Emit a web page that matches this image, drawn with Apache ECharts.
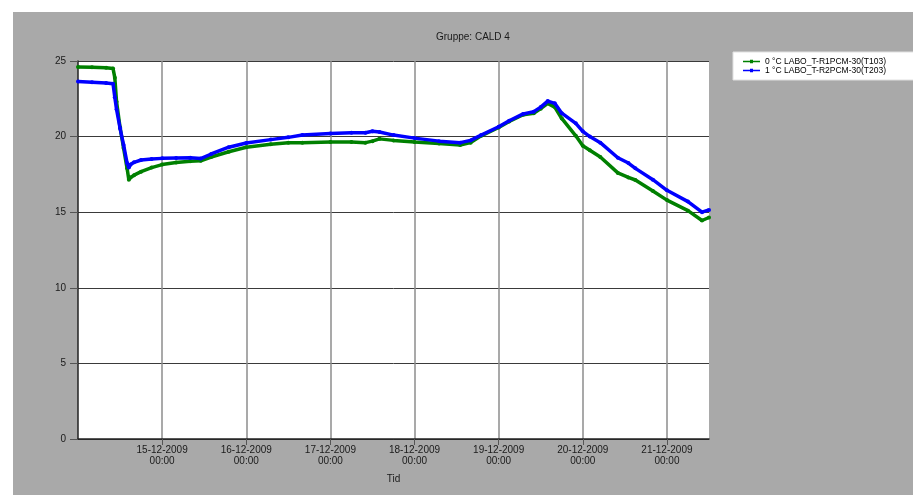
<!DOCTYPE html>
<html>
<head>
<meta charset="utf-8">
<script src="https://cdn.jsdelivr.net/npm/echarts@6/dist/echarts.min.js"></script>
<style>
  html, body { margin: 0; padding: 0; background: #ffffff; width: 913px; height: 495px; overflow: hidden; }
  #wrap { position: absolute; left: 13px; top: 12px; width: 900px; height: 483px; background: #a9a9a9; }
  #chart { width: 900px; height: 483px; }
</style>
</head>
<body>
<div id="wrap"><div id="chart"></div></div>
<script>
// Sample times (dd-MM-yyyy HH:mm)
const times = [
  '14-12-2009 00:00','14-12-2009 04:00','14-12-2009 08:00','14-12-2009 10:00','14-12-2009 10:30',
  '14-12-2009 11:00','14-12-2009 12:00','14-12-2009 13:00','14-12-2009 14:00','14-12-2009 14:30',
  '14-12-2009 15:00','14-12-2009 16:00','14-12-2009 18:00','14-12-2009 21:00','15-12-2009 00:00',
  '15-12-2009 04:00','15-12-2009 08:00','15-12-2009 11:00','15-12-2009 14:00','15-12-2009 19:00',
  '16-12-2009 00:00','16-12-2009 07:00','16-12-2009 12:00','16-12-2009 16:00','17-12-2009 00:00',
  '17-12-2009 06:00','17-12-2009 10:00','17-12-2009 12:00','17-12-2009 14:00','17-12-2009 18:00',
  '18-12-2009 00:00','18-12-2009 07:00','18-12-2009 13:00','18-12-2009 16:00','18-12-2009 19:00',
  '19-12-2009 00:00','19-12-2009 03:00','19-12-2009 07:00','19-12-2009 10:00','19-12-2009 12:00',
  '19-12-2009 14:00','19-12-2009 16:00','19-12-2009 18:00','19-12-2009 22:00','20-12-2009 00:00',
  '20-12-2009 02:00','20-12-2009 05:00','20-12-2009 10:00','20-12-2009 13:00','20-12-2009 15:00',
  '20-12-2009 20:00','21-12-2009 00:00','21-12-2009 06:00','21-12-2009 10:00','21-12-2009 12:00'
];
// 0 °C LABO_T-R1PCM-30(T103)
const seriesT103 = [
  24.60, 24.58, 24.55, 24.50, 23.90,
  22.30, 20.60, 19.25, 17.90, 17.15,
  17.30, 17.45, 17.68, 17.95, 18.15,
  18.28, 18.37, 18.40, 18.65, 19.00,
  19.30, 19.50, 19.60, 19.60, 19.65,
  19.65, 19.60, 19.70, 19.85, 19.75,
  19.65, 19.55, 19.45, 19.60, 20.05,
  20.60, 21.00, 21.45, 21.55, 21.85,
  22.20, 21.95, 21.20, 20.05, 19.40,
  19.10, 18.65, 17.60, 17.30, 17.13,
  16.40, 15.80, 15.10, 14.45, 14.65
];
// 1 °C LABO_T-R2PCM-30(T203)
const seriesT203 = [
  23.65, 23.60, 23.55, 23.50, 22.60,
  21.80, 20.55, 19.45, 18.25, 17.95,
  18.15, 18.30, 18.45, 18.52, 18.56,
  18.58, 18.60, 18.55, 18.85, 19.30,
  19.58, 19.80, 19.95, 20.10, 20.20,
  20.25, 20.25, 20.35, 20.30, 20.10,
  19.90, 19.70, 19.60, 19.75, 20.10,
  20.65, 21.05, 21.50, 21.65, 21.95,
  22.35, 22.20, 21.55, 20.88, 20.35,
  20.00, 19.60, 18.60, 18.25, 17.90,
  17.15, 16.45, 15.70, 15.00, 15.15
];
const seriesNames = ['0 °C LABO_T-R1PCM-30(T103)', '1 °C LABO_T-R2PCM-30(T203)'];
const dayLabels = ['14-12-2009','15-12-2009','16-12-2009','17-12-2009','18-12-2009','19-12-2009','20-12-2009','21-12-2009'];
const yTicks = [0, 5, 10, 15, 20, 25];

// hours since 14-12-2009 00:00 (parsed from the text, no timezone)
function toHours(s) {
  const d = parseInt(s.slice(0, 2), 10);
  const hh = parseInt(s.slice(11, 13), 10);
  const mm = parseInt(s.slice(14, 16), 10);
  return (d - 14) * 24 + hh + mm / 60;
}
const xs = times.map(toHours);
const dataG = xs.map((x, i) => [x, seriesT103[i]]);
const dataB = xs.map((x, i) => [x, seriesT203[i]]);
const tickHours = dayLabels.map((_, i) => i * 24).filter(h => h > 0);

const FONT = "'Liberation Sans', Arial, sans-serif";
const LEGEND_ICON = 'path://M0,8 L34,8 L34,11 L0,11 Z M14,6 L20,6 L20,13 L14,13 Z';
const chart = echarts.init(document.getElementById('chart'), null, { renderer: 'canvas' });
chart.setOption({
  animation: false,
  backgroundColor: '#a9a9a9',
  textStyle: { fontFamily: FONT },
  title: {
    text: 'Gruppe: CALD 4',
    left: 418,
    top: 15,
    textStyle: { fontSize: 10, fontWeight: 'normal', color: '#1a1a1a', fontFamily: FONT }
  },
  legend: {
    orient: 'vertical',
    left: 720,
    top: 40,
    backgroundColor: '#ffffff',
    borderColor: '#e0e0e0',
    borderWidth: 1,
    padding: [5, 31, 5, 10],
    itemGap: 0,
    itemWidth: 17,
    itemHeight: 9,
    data: seriesNames.map(n => ({ name: n, icon: LEGEND_ICON })),
    textStyle: { fontSize: 8.5, color: '#000', fontFamily: FONT }
  },
  grid: { left: 65, top: 49, right: 204, bottom: 56, show: true, backgroundColor: '#ffffff', borderWidth: 0 },
  xAxis: {
    type: 'value',
    min: 0,
    max: 180,
    interval: 24,
    name: 'Tid',
    nameLocation: 'middle',
    nameGap: 35,
    nameTextStyle: { fontSize: 10, color: '#1a1a1a', fontFamily: FONT },
    axisLine: { show: true, onZero: false, lineStyle: { color: '#222', width: 1.5 } },
    axisTick: { show: true, length: 6, customValues: tickHours, lineStyle: { color: '#555' } },
    axisLabel: {
      customValues: tickHours,
      margin: 6,
      fontSize: 10,
      lineHeight: 11,
      color: '#1a1a1a',
      fontFamily: FONT,
      formatter: function (v) {
        const i = Math.round(v / 24);
        if (v <= 0 || v % 24 !== 0 || i >= dayLabels.length) return '';
        return dayLabels[i] + '\n00:00';
      }
    },
    splitLine: { show: true, lineStyle: { color: '#8c8c8c', width: 1.5 } }
  },
  yAxis: {
    type: 'value',
    min: yTicks[0],
    max: yTicks[yTicks.length - 1],
    interval: 5,
    axisLine: { show: true, lineStyle: { color: '#222', width: 1.5 } },
    axisTick: { show: true, length: 8, lineStyle: { color: '#555' } },
    axisLabel: { margin: 12, fontSize: 10, color: '#1a1a1a', fontFamily: FONT },
    splitLine: { show: true, lineStyle: { color: '#3a3a3a', width: 1 } }
  },
  series: [
    {
      name: seriesNames[0],
      type: 'line',
      data: dataG,
      color: '#008000',
      symbol: 'circle',
      symbolSize: 4,
      showSymbol: true,
      lineStyle: { width: 3.5, color: '#008000' },
      itemStyle: { color: '#008000' },
      z: 2
    },
    {
      name: seriesNames[1],
      type: 'line',
      data: dataB,
      color: '#0000ff',
      symbol: 'circle',
      symbolSize: 4,
      showSymbol: true,
      lineStyle: { width: 3.5, color: '#0000ff' },
      itemStyle: { color: '#0000ff' },
      z: 3
    }
  ]
});
</script>
</body>
</html>
